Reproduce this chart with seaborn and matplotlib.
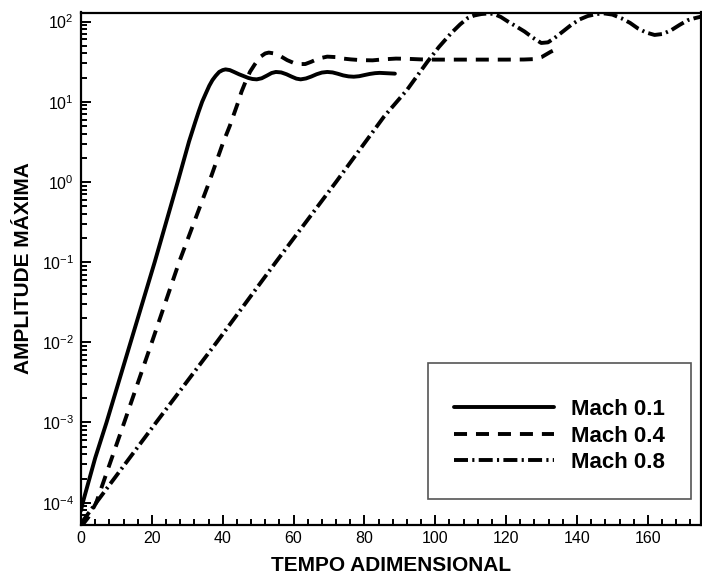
import numpy as np
import pandas as pd
import matplotlib
matplotlib.use("Agg")
import matplotlib.pyplot as plt
import seaborn as sns
from matplotlib.ticker import LogLocator, LogFormatterMathtext, MultipleLocator, NullFormatter

# ---- data ----
t_m01 = [0, 0.5, 4, 7.2, 14, 20.8, 27.3, 30.5, 32.2, 33.2, 34.2, 35.2, 36.2, 37.1, 38, 39, 40,
         40.8, 42, 43.2, 44.6, 46, 47.2, 48.4, 49.6, 51, 52.5, 53.8, 55, 56.5, 58, 59.5, 60.8,
         62, 63.5, 65, 66.5, 68, 69.5, 71, 72.5, 74, 75.5, 77, 78.5, 80, 81.5, 83, 84.3, 86, 88.6]
a_m01 = [8e-5, 1e-4, 3.6e-4, 1e-3, 1e-2, 0.1, 1, 3.2, 5.5, 7.5, 10, 12.6, 15.8, 18.6, 21, 23.5, 24.8,
         25.3, 24.8, 23.5, 22, 20.8, 19.8, 19.2, 19, 19.6, 21.2, 22.8, 23.5, 23.2, 22, 20.5, 19.4,
         19, 19.5, 20.6, 22, 23.1, 23.5, 23.2, 22.3, 21.3, 20.7, 20.5, 20.8, 21.5, 22.2, 22.7, 22.9, 22.7, 22.4]

t_m04 = [0, 2, 4.3, 12.2, 20, 27.7, 36.2, 40, 42, 44.4, 45.3, 46.5, 47.7, 49, 50.5, 52, 53, 54.5,
         56.3, 58.2, 60, 61.5, 63.3, 65, 67, 69.5, 72, 74, 76.2, 79, 82.3, 85.5, 88.9, 92, 96,
         100, 110, 120, 125, 128, 130, 132.6, 135]
a_m04 = [5e-5, 6.5e-5, 1e-4, 1e-3, 1e-2, 0.1, 1, 3, 5, 10, 13.3, 18, 23.6, 29, 36, 40, 41, 40,
         37, 33, 30.5, 29.5, 29.5, 31.5, 34.5, 36.5, 36, 34.5, 33.7, 33, 32.8, 33.8, 34.5, 34.3, 33.7,
         33.5, 33.5, 33.5, 33.6, 34, 36, 42, 47]

t_m08 = [0, 4.3, 21.2, 38.3, 55, 72, 85.5, 92, 97.8, 101, 104.4, 107, 109.1, 111, 113, 115, 116.6,
         118.5, 120.5, 123, 125.2, 127.5, 129.9, 131.8, 133.6, 136, 138.4, 140.7, 143, 145.5, 147.8,
         150, 152.5, 155, 157.2, 159.5, 161.9, 164.2, 166.6, 169, 171.3, 173.2, 175]
a_m08 = [5.5e-5, 1e-4, 1e-3, 1e-2, 0.1, 1, 6.5, 14, 31.6, 48, 71, 92, 110, 119, 124, 126, 124,
         114, 100, 86, 75, 63, 54, 55, 62, 75, 91, 106, 117, 124, 126,
         122, 110, 96, 82, 73, 68, 70, 78, 91, 104, 110, 115]

labels = ["Mach 0.1", "Mach 0.4", "Mach 0.8"]
x_ticks = [0, 20, 40, 60, 80, 100, 120, 140, 160]

# ---- style ----
sns.set_theme(style="ticks")
plt.rcParams['font.family'] = ['Liberation Sans', 'DejaVu Sans']
plt.rcParams['mathtext.default'] = 'regular'
plt.rcParams['text.color'] = 'black'
plt.rcParams['axes.labelcolor'] = 'black'
plt.rcParams['xtick.color'] = 'black'
plt.rcParams['ytick.color'] = 'black'

fig = plt.figure(figsize=(7.02, 5.77), dpi=100)
ax = fig.add_axes([81 / 702, 1 - 524.5 / 577, 620 / 702, (524.5 - 12.5) / 577])

lw = 2.8
styles = ["-", (0, (3.35, 2.3)), (0, (3.6, 1.1, 0.55, 1.1))]
series = [(t_m01, a_m01), (t_m04, a_m04), (t_m08, a_m08)]
for (t, a), lab, ls in zip(series, labels, styles):
    df = pd.DataFrame({"t": t, "a": a})
    sns.lineplot(data=df, x="t", y="a", ax=ax, color="black", linewidth=lw,
                 linestyle=ls, label=lab, estimator=None, sort=True)

ax.set_yscale("log")
ax.set_xlim(0, 175)
ax.set_ylim(5.34e-5, 129.6)

ax.set_xticks(x_ticks)
ax.xaxis.set_minor_locator(MultipleLocator(4))
ax.yaxis.set_major_locator(LogLocator(base=10, numticks=20))
ax.yaxis.set_minor_locator(LogLocator(base=10, subs=np.arange(2, 10), numticks=20))
ax.yaxis.set_major_formatter(LogFormatterMathtext())
ax.yaxis.set_minor_formatter(NullFormatter())

ax.tick_params(which="both", direction="in", top=False, right=False, colors="black",
               width=1.4, labelsize=11.5, labelcolor="black")
ax.tick_params(which="major", length=7.2, pad=5)
ax.tick_params(which="minor", length=4)
for s in ax.spines.values():
    s.set_linewidth(1.6)
    s.set_color("black")

ax.set_xlabel("TEMPO ADIMENSIONAL", fontsize=15, fontweight="bold", labelpad=7, color="black")
ax.set_ylabel("AMPLITUDE MÁXIMA", fontsize=15, fontweight="bold", labelpad=6, color="black")

leg = ax.legend(loc="upper left", bbox_to_anchor=((428 - 81) / 620, (524.5 - 363) / 512),
                prop={"weight": "bold", "size": 16}, frameon=True, fancybox=False,
                edgecolor="#555555", handlelength=4.5, handletextpad=0.8, labelspacing=0.25,
                borderpad=1.15, borderaxespad=0, title=" ", title_fontsize=4)
leg.get_frame().set_linewidth(1.2)
leg.get_frame().set_alpha(1)
for txt in leg.get_texts():
    txt.set_color("black")

fig.savefig("out.png", dpi=100)
